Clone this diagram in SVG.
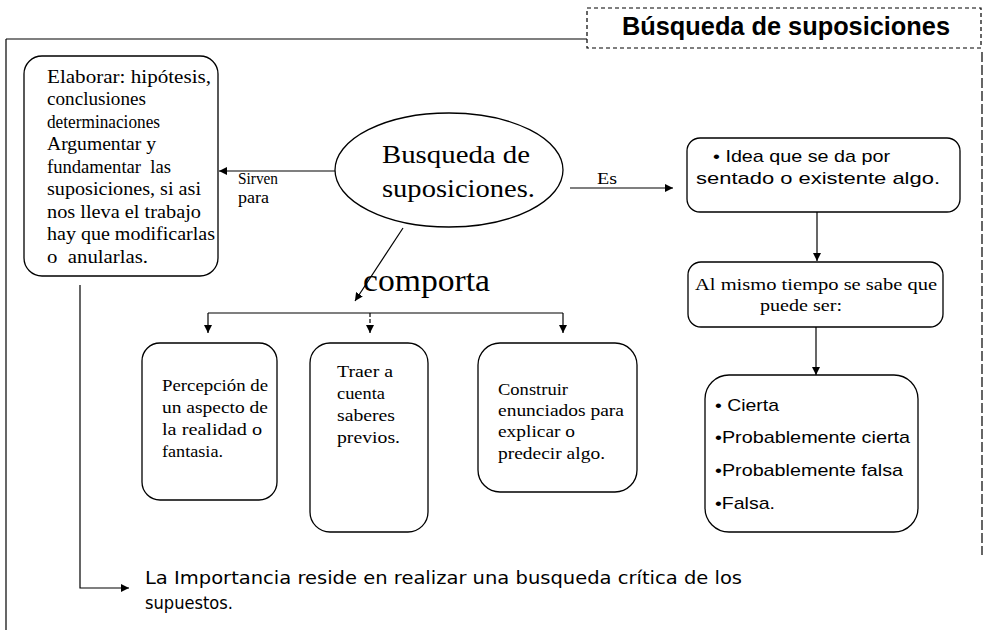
<svg xmlns="http://www.w3.org/2000/svg" width="984" height="630" viewBox="0 0 984 630">
<defs>
<marker id="ah" viewBox="0 0 10 10" refX="10" refY="5" markerWidth="8" markerHeight="8" markerUnits="userSpaceOnUse" orient="auto">
<path d="M0,0 L10,5 L0,10 z" fill="#000"/>
</marker>
<style>
.box{fill:#fff;stroke:#000;stroke-width:1.3}
.ln{fill:none;stroke:#000;stroke-width:1.2}
.arr{fill:none;stroke:#000;stroke-width:1.2;marker-end:url(#ah)}
.tm{font-family:"Liberation Serif","Times New Roman",serif;fill:#000}
.ar{font-family:"Liberation Sans",Arial,sans-serif;fill:#000}
.dv{font-family:"DejaVu Sans",Verdana,sans-serif;fill:#000}
</style>
</defs>
<rect width="984" height="630" fill="#fff"/>

<g id="frame">
<line class="ln" x1="6" y1="39" x2="587" y2="39" stroke-width="1.6"/>
<line class="ln" x1="6" y1="39" x2="6" y2="630" stroke-width="1.4"/>
<line class="ln" x1="982" y1="52" x2="982" y2="555" stroke-dasharray="10 3"/>
</g>

<g id="title">
<rect x="587" y="8" width="394" height="40" fill="none" stroke="#000" stroke-width="1.2" stroke-dasharray="4 3"/>
<text class="ar" x="622" y="35" font-size="25" font-weight="bold" textLength="328" lengthAdjust="spacingAndGlyphs">Búsqueda de suposiciones</text>
</g>

<g id="connectors">
<line class="arr" x1="335" y1="171" x2="219" y2="171"/>
<line class="arr" x1="570" y1="188" x2="673" y2="188"/>
<line class="arr" x1="403" y1="228" x2="355" y2="301"/>
<polyline class="ln" points="208,313 563,313"/>
<line class="arr" x1="208" y1="313" x2="208" y2="333"/>
<line class="arr" x1="370" y1="313" x2="370" y2="333" stroke-dasharray="4 2"/>
<line class="arr" x1="563" y1="313" x2="563" y2="333"/>
<line class="arr" x1="817" y1="212" x2="817" y2="261"/>
<line class="arr" x1="816" y1="327" x2="816" y2="375"/>
<polyline class="arr" points="80,285 80,588 129,588"/>
<text class="tm" x="238" y="184" font-size="16" textLength="40" lengthAdjust="spacingAndGlyphs">Sirven</text>
<text class="tm" x="238" y="203" font-size="16" textLength="31" lengthAdjust="spacingAndGlyphs">para</text>
<text class="tm" x="597" y="184" font-size="16" textLength="20" lengthAdjust="spacingAndGlyphs">Es</text>
<text class="tm" x="363" y="291" font-size="31" textLength="127" lengthAdjust="spacingAndGlyphs">comporta</text>
</g>

<g id="n-center">
<ellipse cx="449" cy="170" rx="114" ry="57" class="box"/>
<text class="tm" x="382" y="163" font-size="25" textLength="148" lengthAdjust="spacingAndGlyphs">Busqueda de</text>
<text class="tm" x="382" y="197" font-size="25" textLength="153" lengthAdjust="spacingAndGlyphs">suposiciones.</text>
</g>

<g id="n-left">
<rect x="24" y="56" width="194" height="220" rx="18" class="box"/>
<g class="tm" font-size="18">
<text x="47" y="83" textLength="164" lengthAdjust="spacingAndGlyphs">Elaborar: hipótesis,</text>
<text x="47" y="105" textLength="99" lengthAdjust="spacingAndGlyphs">conclusiones</text>
<text x="47" y="128" textLength="113" lengthAdjust="spacingAndGlyphs">determinaciones</text>
<text x="47" y="150" textLength="109" lengthAdjust="spacingAndGlyphs">Argumentar y</text>
<text x="47" y="173" textLength="124" lengthAdjust="spacingAndGlyphs" xml:space="preserve">fundamentar  las</text>
<text x="47" y="195" textLength="154" lengthAdjust="spacingAndGlyphs">suposiciones, si asi</text>
<text x="47" y="218" textLength="154" lengthAdjust="spacingAndGlyphs">nos lleva el trabajo</text>
<text x="47" y="240" textLength="168" lengthAdjust="spacingAndGlyphs">hay que modificarlas</text>
<text x="47" y="263" textLength="101" lengthAdjust="spacingAndGlyphs" xml:space="preserve">o  anularlas.</text>
</g>
</g>

<g id="n-idea">
<rect x="687" y="138" width="273" height="74" rx="13" class="box"/>
<text class="ar" x="713" y="162" font-size="17" textLength="177" lengthAdjust="spacingAndGlyphs">• Idea que se da por</text>
<text class="ar" x="696" y="184" font-size="17" textLength="244" lengthAdjust="spacingAndGlyphs">sentado o existente algo.</text>
</g>

<g id="n-tiempo">
<rect x="688" y="262" width="255" height="65" rx="13" class="box"/>
<text class="tm" x="695" y="290" font-size="17" textLength="242" lengthAdjust="spacingAndGlyphs">Al mismo tiempo se sabe que</text>
<text class="tm" x="760" y="311" font-size="17" textLength="82" lengthAdjust="spacingAndGlyphs">puede ser:</text>
</g>

<g id="n-opciones">
<rect x="705" y="375" width="213" height="157" rx="24" class="box"/>
<g class="ar" font-size="17">
<text x="715" y="411" textLength="64" lengthAdjust="spacingAndGlyphs">• Cierta</text>
<text x="715" y="443" textLength="195" lengthAdjust="spacingAndGlyphs">•Probablemente cierta</text>
<text x="715" y="476" textLength="188" lengthAdjust="spacingAndGlyphs">•Probablemente falsa</text>
<text x="715" y="509" textLength="60" lengthAdjust="spacingAndGlyphs">•Falsa.</text>
</g>
</g>

<g id="n-percepcion">
<rect x="142" y="343" width="135" height="157" rx="18" class="box"/>
<g class="tm" font-size="17">
<text x="162" y="391" textLength="106" lengthAdjust="spacingAndGlyphs">Percepción de</text>
<text x="162" y="413" textLength="106" lengthAdjust="spacingAndGlyphs">un aspecto de</text>
<text x="162" y="435" textLength="100" lengthAdjust="spacingAndGlyphs">la realidad o</text>
<text x="162" y="457" textLength="61" lengthAdjust="spacingAndGlyphs">fantasia.</text>
</g>
</g>

<g id="n-traer">
<rect x="310" y="343" width="118" height="189" rx="20" class="box"/>
<g class="tm" font-size="17">
<text x="337" y="377" textLength="56" lengthAdjust="spacingAndGlyphs">Traer a</text>
<text x="337" y="399" textLength="48" lengthAdjust="spacingAndGlyphs">cuenta</text>
<text x="337" y="421" textLength="58" lengthAdjust="spacingAndGlyphs">saberes</text>
<text x="337" y="443" textLength="63" lengthAdjust="spacingAndGlyphs">previos.</text>
</g>
</g>

<g id="n-construir">
<rect x="478" y="343" width="159" height="149" rx="22" class="box"/>
<g class="tm" font-size="17">
<text x="498" y="395" textLength="70" lengthAdjust="spacingAndGlyphs">Construir</text>
<text x="498" y="416" textLength="126" lengthAdjust="spacingAndGlyphs">enunciados para</text>
<text x="498" y="437" textLength="77" lengthAdjust="spacingAndGlyphs">explicar o</text>
<text x="498" y="459" textLength="107" lengthAdjust="spacingAndGlyphs">predecir algo.</text>
</g>
</g>

<g id="n-importancia">
<text class="dv" x="145" y="584" font-size="17" textLength="597" lengthAdjust="spacingAndGlyphs">La Importancia reside en realizar una busqueda crítica de los</text>
<text class="dv" x="145" y="609" font-size="17" textLength="88" lengthAdjust="spacingAndGlyphs">supuestos.</text>
</g>
</svg>
